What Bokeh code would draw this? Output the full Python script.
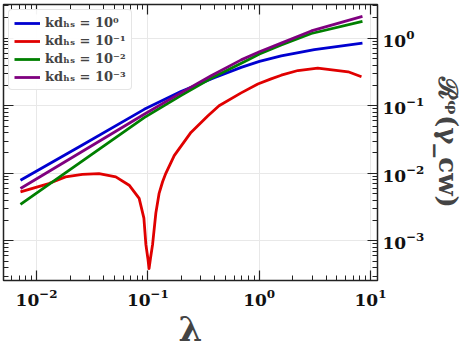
import numpy as np
from bokeh.plotting import figure
from bokeh.models import LogAxis, Legend, LegendItem, Range1d, FixedTicker, LogTickFormatter
from bokeh.embed import file_html
from bokeh.resources import INLINE

# ---- data (x = lambda, y = R^phi(gamma_cw)) ----
lam_blue = [0.00717, 0.0258, 0.0927, 0.198, 0.395, 0.689, 1.006, 1.578, 3.13, 8.47]
r_blue = [0.00789, 0.0263, 0.0884, 0.162, 0.260, 0.370, 0.453, 0.545, 0.679, 0.845]

lam_red = [0.00717, 0.0129, 0.0182, 0.0258, 0.0364, 0.0515, 0.0679, 0.0835, 0.0921,
           0.0960, 0.1000, 0.1025, 0.1055, 0.1102, 0.118, 0.126, 0.1356, 0.145, 0.1725,
           0.2438, 0.345, 0.436, 0.689, 0.973, 1.28, 1.58, 2.23, 3.36, 6.3, 8.30]
r_red = [0.00533, 0.00706, 0.00885, 0.00966, 0.00989, 0.00885, 0.00667, 0.00426, 0.00217,
         0.00088, 0.00055, 0.00039, 0.00055, 0.00088, 0.0026, 0.0050, 0.0075, 0.0100, 0.0183,
         0.0403, 0.0705, 0.100, 0.155, 0.21, 0.25, 0.283, 0.332, 0.360, 0.318, 0.269]

lam_green = [0.00717, 0.0927, 0.198, 0.370, 0.791, 1.006, 1.578, 2.94, 8.47]
r_green = [0.00348, 0.0668, 0.1416, 0.255, 0.477, 0.583, 0.790, 1.172, 1.774]

lam_purple = [0.00717, 0.0927, 0.198, 0.370, 0.689, 1.006, 1.578, 2.94, 8.47]
r_purple = [0.00597, 0.0747, 0.155, 0.278, 0.477, 0.630, 0.845, 1.279, 2.10]

labels = ["kdₕₛ = 10⁰", "kdₕₛ = 10⁻¹", "kdₕₛ = 10⁻²", "kdₕₛ = 10⁻³"]
colors = ["#0000d0", "#e00000", "#007f00", "#7f007f"]

x_major = [1e-2, 1e-1, 1e0, 1e1]
y_major = [1e-3, 1e-2, 1e-1, 1e0]

x_minor = [k * 10.0 ** e for e in range(-3, 2) for k in range(2, 10)]
y_minor = [k * 10.0 ** e for e in range(-4, 1) for k in range(2, 10)]

FONT = "DejaVu Serif"

p = figure(width=474, height=351, x_axis_type="log", y_axis_type="log",
           y_axis_location="right", output_backend="svg", toolbar_location=None,
           x_range=Range1d(10 ** -2.297, 10 ** 1.063),
           y_range=Range1d(10 ** -3.586, 10 ** 0.498),
           min_border_left=3, min_border_top=4, min_border_right=97, min_border_bottom=68)
p.background_fill_color = "white"
p.border_fill_color = "white"
p.outline_line_color = "#222222"
p.outline_line_width = 1.5

xt = FixedTicker(ticks=x_major, minor_ticks=x_minor)
yt = FixedTicker(ticks=y_major, minor_ticks=y_minor)

series = [(lam_blue, r_blue), (lam_red, r_red), (lam_green, r_green), (lam_purple, r_purple)]
items = []
for (xs, ys), c, lab in zip(series, colors, labels):
    r = p.line(xs, ys, line_color=c, line_width=2.8, line_join="round")
    items.append(LegendItem(label=lab, renderers=[r]))

def style_axis(ax, ticker, show_labels):
    ax.ticker = ticker
    ax.formatter = LogTickFormatter()
    ax.major_tick_in = 10
    ax.major_tick_out = 0
    ax.minor_tick_in = 5
    ax.minor_tick_out = 0
    ax.axis_line_color = "#222222"
    ax.major_tick_line_color = "#222222"
    ax.minor_tick_line_color = "#222222"
    ax.major_tick_line_width = 1.2
    ax.minor_tick_line_width = 1
    if show_labels:
        ax.major_label_text_font = FONT
        ax.major_label_text_font_style = "bold"
        ax.major_label_text_font_size = "17px"
        ax.major_label_text_color = "#111111"
    else:
        ax.major_label_text_font_size = "1px"
        ax.major_label_text_color = None
        ax.major_label_standoff = 0

xa = p.xaxis[0]
style_axis(xa, xt, True)
xa.axis_label = "λ"
xa.axis_label_text_font = FONT
xa.axis_label_text_font_style = "bold"
xa.axis_label_text_font_size = "34px"
xa.axis_label_standoff = 0
xa.major_label_standoff = 8

ya = p.yaxis[0]
style_axis(ya, yt, True)
ya.axis_label = "ℛᵠ(γ_cw)"
ya.axis_label_text_font = FONT
ya.axis_label_text_font_style = "bold"
ya.axis_label_text_font_size = "26px"
ya.major_label_standoff = 5
ya.axis_label_standoff = 6

top = LogAxis()
style_axis(top, xt, False)
p.add_layout(top, "above")
left = LogAxis()
style_axis(left, yt, False)
p.add_layout(left, "left")

p.xgrid.ticker = xt
p.ygrid.ticker = yt
p.xgrid.grid_line_color = "#e8e8e8"
p.ygrid.grid_line_color = "#e8e8e8"

leg = Legend(items=items, location="top_left")
leg.label_text_font = FONT
leg.label_text_font_style = "bold"
leg.label_text_font_size = "13px"
leg.glyph_width = 26
leg.glyph_height = 14
leg.label_height = 14
leg.spacing = 3
leg.padding = 5
leg.margin = 5
leg.border_line_color = "#cccccc"
leg.border_radius = 4
p.add_layout(leg)

open("out.html", "w").write(file_html(p, INLINE))
